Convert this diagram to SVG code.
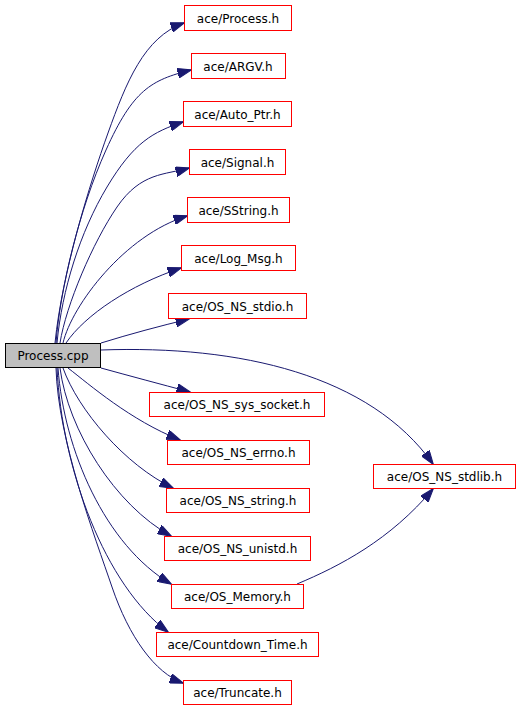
<svg xmlns="http://www.w3.org/2000/svg" width="520" height="709" viewBox="0 0 520 709">
<defs>
<marker id="ah" markerUnits="userSpaceOnUse" markerWidth="14" markerHeight="10" viewBox="0 0 13 9" refX="12.5" refY="4.5" orient="auto">
<path d="M0,0 L13,4.5 L0,9 z" fill="#191970" stroke="#191970" stroke-width="1"/>
</marker>
</defs>
<style>
.n rect{fill:#ffffff;stroke:#ff0000;stroke-width:1}
.n text{font-family:"DejaVu Sans",sans-serif;font-size:12px;text-anchor:middle;fill:#000000}
#n0 rect{fill:#bfbfbf;stroke:#000000}
.e path{fill:none;stroke:#191970;stroke-width:1;marker-end:url(#ah)}
</style>
<rect width="520" height="709" fill="#ffffff"/>
<g id="edges" class="e">
<path d="M55,343 C62,273 90,183 108,133 S144,37 184,23"/>
<path d="M56,343 C60,290 79,210 106,150 S151,80 191,70"/>
<path d="M57,343 C62,290 80,232 107,187 S153,132 183,122"/>
<path d="M60,343 C66,305 93,242 117,207 S165,175 189,168"/>
<path d="M63,343 C72,305 125,235 187,216"/>
<path d="M66,343 C85,315 130,285 181,268"/>
<path d="M101,343 C130,334 160,326 189,319"/>
<path d="M101,368 C130,376 160,384 190,392"/>
<path d="M68,368 C90,385 130,420 180,440"/>
<path d="M63,368 C78,410 125,465 173,488"/>
<path d="M60,368 C68,430 115,505 171,536"/>
<path d="M58,368 C64,450 105,545 171,584"/>
<path d="M57,368 C62,470 105,585 168,632"/>
<path d="M56,368 C58,440 95,537 112,587 S155,673 183,683"/>
<path d="M101,350 C240,345 370,375 433,464"/>
<path d="M297,584 C340,566 390,540 433,489"/>
</g>
<g id="n0" class="n"><rect x="5.5" y="343.5" width="95" height="24"/><text x="53" y="360">Process.cpp</text></g>
<g id="n1" class="n"><rect x="184.5" y="5.5" width="107" height="25"/><text x="238" y="23">ace/Process.h</text></g>
<g id="n2" class="n"><rect x="191.5" y="53.5" width="94" height="25"/><text x="238" y="71">ace/ARGV.h</text></g>
<g id="n3" class="n"><rect x="183.5" y="101.5" width="108" height="25"/><text x="237.5" y="119">ace/Auto_Ptr.h</text></g>
<g id="n4" class="n"><rect x="189.5" y="149.5" width="96" height="25"/><text x="237.5" y="167">ace/Signal.h</text></g>
<g id="n5" class="n"><rect x="187.5" y="197.5" width="102" height="25"/><text x="238.5" y="215">ace/SString.h</text></g>
<g id="n6" class="n"><rect x="181.5" y="245.5" width="114" height="25"/><text x="238.5" y="263">ace/Log_Msg.h</text></g>
<g id="n7" class="n"><rect x="168.5" y="293.5" width="138" height="25"/><text x="237.5" y="311">ace/OS_NS_stdio.h</text></g>
<g id="n8" class="n"><rect x="149.5" y="392.5" width="175" height="24"/><text x="237" y="409">ace/OS_NS_sys_socket.h</text></g>
<g id="n9" class="n"><rect x="167.5" y="440.5" width="142" height="24"/><text x="238.5" y="457">ace/OS_NS_errno.h</text></g>
<g id="n10" class="n"><rect x="373.5" y="464.5" width="142" height="24"/><text x="444.5" y="481">ace/OS_NS_stdlib.h</text></g>
<g id="n11" class="n"><rect x="166.5" y="488.5" width="143" height="24"/><text x="238" y="505">ace/OS_NS_string.h</text></g>
<g id="n12" class="n"><rect x="164.5" y="536.5" width="146" height="24"/><text x="237.5" y="553">ace/OS_NS_unistd.h</text></g>
<g id="n13" class="n"><rect x="171.5" y="584.5" width="132" height="24"/><text x="237.5" y="601">ace/OS_Memory.h</text></g>
<g id="n14" class="n"><rect x="156.5" y="632.5" width="162" height="24"/><text x="237.5" y="649">ace/Countdown_Time.h</text></g>
<g id="n15" class="n"><rect x="183.5" y="680.5" width="108" height="24"/><text x="237.5" y="697">ace/Truncate.h</text></g>
</svg>
